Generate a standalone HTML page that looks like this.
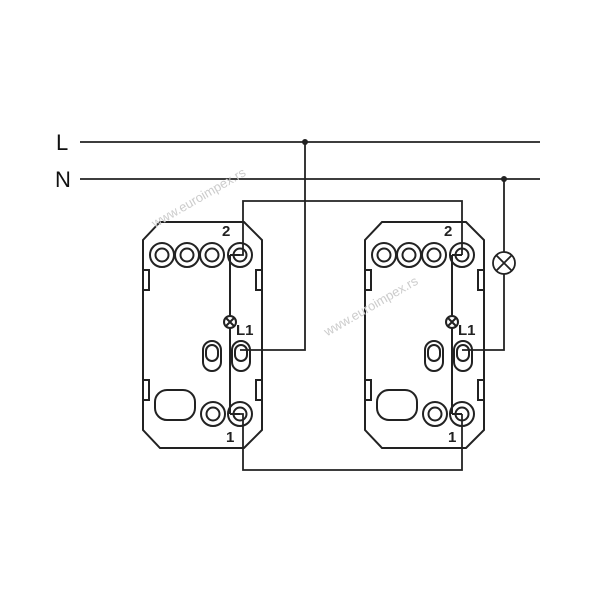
<!DOCTYPE html>
<html><head><style>body{margin:0;background:#fff}svg{display:block}</style></head><body>
<svg width="600" height="600" viewBox="0 0 600 600" xmlns="http://www.w3.org/2000/svg" font-family="Liberation Sans, sans-serif">
<defs>
<g id="sw" fill="none" stroke="#222" stroke-width="2">
<path d="M160,222 L244,222 L262,240 L262,430 L244,448 L160,448 L143,430 L143,240 Z"/>
<rect x="143" y="270" width="6" height="20"/><rect x="256" y="270" width="6" height="20"/>
<rect x="143" y="380" width="6" height="20"/><rect x="256" y="380" width="6" height="20"/>
<circle cx="162" cy="255" r="12"/><circle cx="187" cy="255" r="12"/><circle cx="212" cy="255" r="12"/><circle cx="240" cy="255" r="12"/>
<circle cx="162" cy="255" r="6.5"/><circle cx="187" cy="255" r="6.5"/><circle cx="212" cy="255" r="6.5"/><circle cx="240" cy="255" r="6.5"/>
<rect x="203" y="341" width="18" height="30" rx="9"/><rect x="232" y="341" width="18" height="30" rx="9"/>
<rect x="206" y="345" width="12" height="16" rx="6"/><rect x="235" y="345" width="12" height="16" rx="6"/>
<rect x="155" y="390" width="40" height="30" rx="12"/>
<circle cx="213" cy="414" r="12"/><circle cx="240" cy="414" r="12"/>
<circle cx="213" cy="414" r="6.5"/><circle cx="240" cy="414" r="6.5"/>
<line x1="230" y1="255" x2="230" y2="316"/><line x1="230" y1="328" x2="230" y2="414"/>
<line x1="230" y1="255" x2="240" y2="255"/><line x1="230" y1="414" x2="240" y2="414"/>
<circle cx="230" cy="322" r="6"/><path d="M226,318 L234,326 M234,318 L226,326"/>
</g>
</defs>
<use href="#sw"/>
<use href="#sw" transform="translate(222,0)"/>
<g fill="#222" font-weight="bold" font-size="15">
<text x="222" y="236">2</text><text x="444" y="236">2</text>
<text x="236" y="335">L1</text><text x="458" y="335">L1</text>
<text x="226" y="442">1</text><text x="448" y="442">1</text>
</g>
<g font-size="22" fill="#111"><text x="56" y="150">L</text><text x="55" y="187">N</text></g>
<g fill="none" stroke="#222" stroke-width="1.8">
<line x1="80" y1="142" x2="540" y2="142"/>
<line x1="80" y1="179" x2="540" y2="179"/>
<polyline points="305,142 305,350 240,350"/>
<polyline points="240,255 243,255 243,201 462,201 462,255"/>
<polyline points="240,414 243,414 243,470 462,470 462,414"/>
<polyline points="504,179 504,252"/>
<polyline points="504,274 504,350 462,350"/>
<circle cx="504" cy="263" r="11"/><path d="M496,255 L512,271 M512,255 L496,271"/>
</g>
<circle cx="305" cy="142" r="3" fill="#222"/><circle cx="504" cy="179" r="3" fill="#222"/>
<g fill="#ccc" font-size="13" transform="rotate(-30)">
<text x="20" y="275">www.euroimpex.rs</text>
<text x="115" y="455">www.euroimpex.rs</text>
</g>
</svg>
</body></html>
